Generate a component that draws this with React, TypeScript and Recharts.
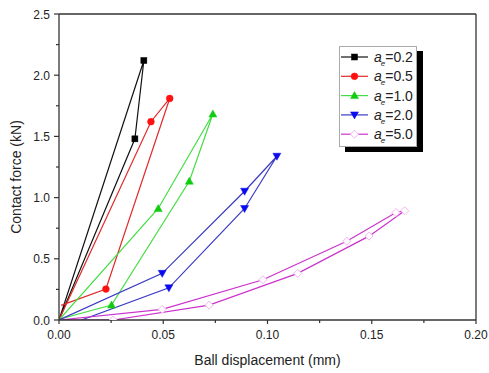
import React from 'react';
import { LineChart, Line, XAxis, YAxis, ReferenceLine } from 'recharts';

// ---- data ----
const blackX = [0, 0.0407, 0.0364, 0];
const blackY = [0, 2.12, 1.48, 0];
const blackM = [false, true, true, false];

const redX = [0, 0.0441, 0.0531, 0.0225, 0.001];
const redY = [0, 1.62, 1.81, 0.253, 0.12];
const redM = [false, true, true, true, false];

const greenX = [0, 0.0476, 0.0738, 0.0625, 0.0252, 0.001];
const greenY = [0, 0.911, 1.683, 1.134, 0.122, 0.01];
const greenM = [false, true, true, true, true, false];

const blueX = [0, 0.0495, 0.089, 0.1045, 0.089, 0.0527, 0.0108];
const blueY = [0, 0.381, 1.052, 1.338, 0.911, 0.263, 0];
const blueM = [false, true, true, true, true, true, false];

const magX = [0, 0.0495, 0.0978, 0.138, 0.1616, 0.1658, 0.1487, 0.1145, 0.072, 0.026, 0];
const magY = [0, 0.087, 0.329, 0.644, 0.878, 0.892, 0.685, 0.381, 0.122, 0.0, 0];
const magM = [false, true, true, true, true, true, true, true, true, true, false];

const seriesNames = ['0.2', '0.5', '1.0', '2.0', '5.0'];

const xTicks = [0, 0.025, 0.05, 0.075, 0.1, 0.125, 0.15, 0.175, 0.2];
const xMajorLabels = ['0.00', '0.05', '0.10', '0.15', '0.20'];
const yTicks = [0, 0.25, 0.5, 0.75, 1.0, 1.25, 1.5, 1.75, 2.0, 2.25, 2.5];
const yMajorLabels = ['0.0', '0.5', '1.0', '1.5', '2.0', '2.5'];

const build = (xs: number[], ys: number[], ms: boolean[]) =>
  xs.map((x, i) => ({ x, y: ys[i], m: ms[i] }));

const FONT = '"Liberation Sans", Arial, sans-serif';
const TXT = '#222';

type Shape = 'square' | 'circle' | 'tri' | 'triDown' | 'diamond';

const styles: { shape: Shape; line: string; fill: string; stroke: string }[] = [
  { shape: 'square', line: '#111111', fill: '#000000', stroke: '#000000' },
  { shape: 'circle', line: '#e22a2a', fill: '#ff1010', stroke: '#ff1010' },
  { shape: 'tri', line: '#44dd44', fill: '#10cc10', stroke: '#10cc10' },
  { shape: 'triDown', line: '#3a3ac4', fill: '#0a0aee', stroke: '#0a0aee' },
  { shape: 'diamond', line: '#cc33cc', fill: '#ffffff', stroke: '#f2b4f2' },
];

function marker(shape: Shape, cx: number, cy: number, fill: string, stroke: string, key?: string) {
  switch (shape) {
    case 'square':
      return <rect key={key} x={cx - 3} y={cy - 3} width={6} height={6} fill={fill} stroke={stroke} strokeWidth={0.5} />;
    case 'circle':
      return <circle key={key} cx={cx} cy={cy} r={3.4} fill={fill} stroke={stroke} strokeWidth={0.5} />;
    case 'tri':
      return <polygon key={key} points={`${cx},${cy - 4} ${cx - 4},${cy + 3} ${cx + 4},${cy + 3}`} fill={fill} stroke={stroke} strokeWidth={0.5} />;
    case 'triDown':
      return <polygon key={key} points={`${cx},${cy + 4} ${cx - 4},${cy - 3} ${cx + 4},${cy - 3}`} fill={fill} stroke={stroke} strokeWidth={0.5} />;
    case 'diamond':
    default:
      return <polygon key={key} points={`${cx},${cy - 4} ${cx + 4},${cy} ${cx},${cy + 4} ${cx - 4},${cy}`} fill={fill} stroke={stroke} strokeWidth={1} />;
  }
}

const makeDot = (s: { shape: Shape; fill: string; stroke: string }, name: string) => (props: any) => {
  const { cx, cy, index, payload } = props;
  const k = `${name}-${index}`;
  if (!payload || !payload.m || cx == null || cy == null) return <g key={k} />;
  return marker(s.shape, cx, cy, s.fill, s.stroke, k);
};

const XTick = (props: any) => {
  const { x, y, payload } = props;
  const v = payload.value as number;
  const idx = xTicks.indexOf(v);
  const major = idx % 2 === 0;
  return (
    <g>
      <line x1={x} y1={y} x2={x} y2={y + (major ? 4 : 3)} stroke="#333" strokeWidth={1.2} />
      {major && (
        <text x={x} y={y + 19} textAnchor="middle" fontSize={12} fontFamily={FONT} fill={TXT}>
          {xMajorLabels[idx / 2]}
        </text>
      )}
    </g>
  );
};

const YTick = (props: any) => {
  const { x, y, payload } = props;
  const v = payload.value as number;
  const idx = yTicks.indexOf(v);
  const major = idx % 2 === 0;
  return (
    <g>
      <line x1={x} y1={y} x2={x - (major ? 5 : 3)} y2={y} stroke="#333" strokeWidth={1.2} />
      {major && (
        <text x={x - 9} y={y + 4.5} textAnchor="end" fontSize={12} fontFamily={FONT} fill={TXT}>
          {yMajorLabels[idx / 2]}
        </text>
      )}
    </g>
  );
};

const XLabel = (props: any) => {
  const vb = props.viewBox || {};
  const cx = vb.x + vb.width / 2;
  return (
    <text x={cx} y={vb.y + 45} textAnchor="middle" fontSize={14} fontFamily={FONT} fill={TXT}>
      Ball displacement (mm)
    </text>
  );
};

const YLabel = (props: any) => {
  const vb = props.viewBox || {};
  const cy = vb.y + vb.height / 2 + 10;
  const cx = 21;
  return (
    <text x={cx} y={cy} transform={`rotate(-90 ${cx} ${cy})`} textAnchor="middle" fontSize={14} fontFamily={FONT} fill={TXT}>
      Contact force (kN)
    </text>
  );
};

const LegendBox = () => (
  <svg width={86} height={110} style={{ display: 'block' }}>
    <rect x={6} y={5} width={78} height={101} fill="#000" />
    <rect x={0.5} y={0.5} width={77} height={100} fill="#fff" stroke="#aaa" strokeWidth={1} />
    {seriesNames.map((n, i) => {
      const s = styles[i];
      const cy = 11 + i * 19.3;
      return (
        <g key={n}>
          <line x1={2} y1={cy} x2={29} y2={cy} stroke={s.line} strokeWidth={1.2} />
          {marker(s.shape, 15.5, cy, s.fill, s.stroke)}
          <text x={35} y={cy + 5} fontSize={14} fontFamily={FONT} fill={TXT}>
            <tspan fontStyle="italic">a</tspan>
            <tspan fontStyle="italic" fontSize={8} dx={-1} dy={4}>e</tspan>
            <tspan dy={-4}>{'=' + n}</tspan>
          </text>
        </g>
      );
    })}
  </svg>
);

const datasets = [
  build(blackX, blackY, blackM),
  build(redX, redY, redM),
  build(greenX, greenY, greenM),
  build(blueX, blueY, blueM),
  build(magX, magY, magM),
];

export default function App() {
  return (
    <div style={{ position: 'absolute', left: 0, top: 0, width: 489, height: 373, background: '#fff' }}>
      <LineChart width={489} height={373} margin={{ top: 14, right: 13, left: 0, bottom: 0 }}>
        <XAxis
          type="number"
          dataKey="x"
          domain={[0, 0.2]}
          ticks={xTicks}
          allowDataOverflow
          height={53}
          tickSize={0}
          tickMargin={0}
          tickLine={false}
          tick={<XTick />}
          axisLine={{ stroke: '#333', strokeWidth: 1.3 }}
          label={<XLabel />}
        />
        <YAxis
          type="number"
          dataKey="y"
          domain={[0, 2.5]}
          ticks={yTicks}
          allowDataOverflow
          width={59}
          tickSize={0}
          tickMargin={0}
          tickLine={false}
          tick={<YTick />}
          axisLine={{ stroke: '#333', strokeWidth: 1.3 }}
          label={<YLabel />}
        />
        <ReferenceLine y={2.5} stroke="#333" strokeWidth={1.3} />
        <ReferenceLine x={0.2} stroke="#333" strokeWidth={1.3} />
        {datasets.map((d, i) => (
          <Line
            key={seriesNames[i]}
            data={d}
            dataKey="y"
            name={seriesNames[i]}
            type="linear"
            stroke={styles[i].line}
            strokeWidth={1.2}
            dot={makeDot(styles[i], seriesNames[i])}
            activeDot={false}
            isAnimationActive={false}
          />
        ))}
      </LineChart>
      <div style={{ position: 'absolute', left: 339, top: 46 }}>
        <LegendBox />
      </div>
    </div>
  );
}
